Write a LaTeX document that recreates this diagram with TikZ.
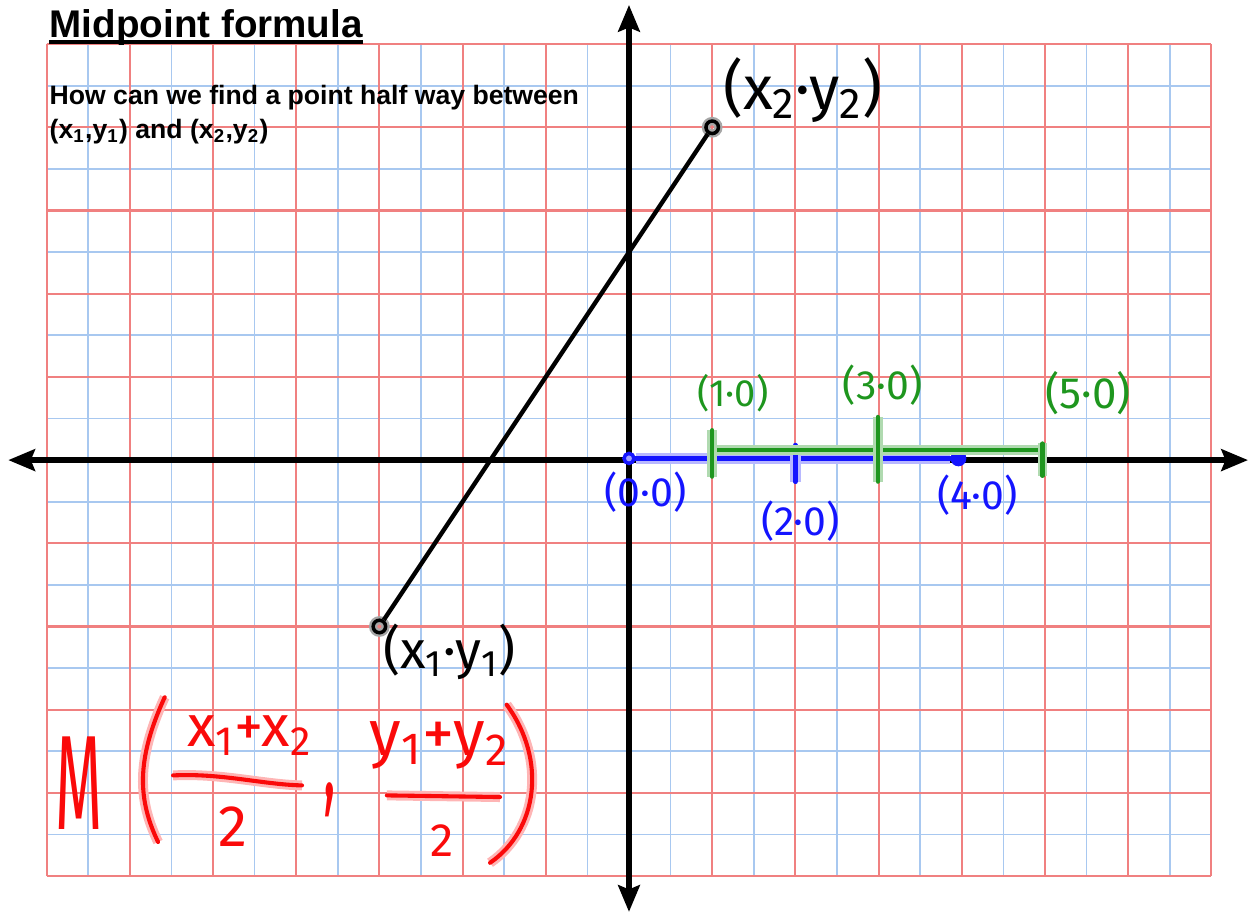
\documentclass[tikz,border=0pt]{standalone}
\usepackage{fontspec}
\usepackage{xcolor}
\usepackage{graphicx}
\setmainfont{Liberation Sans}
\newfontfamily\handfont{Fira Sans}
\usetikzlibrary{arrows.meta, positioning, calc}
\definecolor{gridred}{RGB}{240,128,128}
\definecolor{gridblue}{RGB}{168,200,240}
\definecolor{penblue}{RGB}{20,20,255}
\definecolor{pengreen}{RGB}{30,150,30}
\definecolor{penred}{RGB}{250,10,10}

\begin{document}
\begin{tikzpicture}[
    minorgrid/.style={draw=gridblue, line width=0.6pt, step=0.5},
    majorgrid/.style={draw=gridred, line width=0.7pt, step=1},
    axis/.style={draw, line width=1.8pt, {Stealth[length=3.2mm,width=2.6mm,inset=0.5mm]}-{Stealth[length=3.2mm,width=2.6mm,inset=0.5mm]}},
    bluepen/.style={draw=penblue, line width=1.6pt, line cap=round, line join=round, preaction={draw=penblue!30, line width=3.6pt}},
    greenpen/.style={draw=pengreen, line width=1.4pt, line cap=round, line join=round, preaction={draw=pengreen!35, line width=3.4pt}},
    redpen/.style={draw=penred, line width=1.4pt, line cap=round, line join=round, preaction={draw=penred!30, line width=3.4pt}},
    pt/.style={circle, draw, line width=1.2pt, inner sep=0pt, minimum size=0.15cm, preaction={draw=black!35, line width=2.8pt}},
    hand/.style={font=\handfont\fontsize{#1}{#1}\selectfont, inner sep=0pt},
    heading/.style={anchor=base west, inner sep=0pt, font=\bfseries\fontsize{#1}{#1}\selectfont}]

    \useasboundingbox (-7.56,-5.47) rectangle (7.5,5.53);

    \draw[minorgrid] (-7,-5) grid (7,5);
    \draw[majorgrid] (-7,-5) grid (7,5);

    \node[heading=13.2] (title) at (-6.97,5.08) {Midpoint formula};
    \draw[line width=1.3pt] ([yshift=-1.5pt]title.base west) -- ([yshift=-1.5pt]title.base east);
    \node[heading=9.1] (question) at (-6.97,4.27) {How can we find a point half way between};
    \node[heading=9.1] (endpoints) at (-6.97,3.86) {(x\textsubscript{1},y\textsubscript{1}) and (x\textsubscript{2},y\textsubscript{2})};

    \draw[axis] (-7.46,0) -- (7.44,0);
    \draw[axis] (0,-5.43) -- (0,5.47);

    \node[pt] (p2) at (1,4) {};
    \node[pt] (p1) at (-3,-2) {};
    \draw[line width=1.5pt] (p1) -- (p2);
    \node[hand=21] (labeltwo) at (2.09,4.45) {(x\textsubscript{2}·y\textsubscript{2})};
    \node[hand=18] (labelone) at (-2.16,-2.31) {(x\textsubscript{1}·y\textsubscript{1})};

    \node[circle, draw=penblue, fill=penblue!40, line width=1.2pt, inner sep=0pt, minimum size=0.12cm] (origin) at (0,0.02) {};
    \node[circle, fill=penblue, inner sep=0pt, minimum size=0.19cm] (four) at (3.96,0.02) {};
    \draw[bluepen, line width=2pt] (origin) -- (four);
    \draw[bluepen] (2,0.18) -- (2,-0.26);
    \draw[greenpen] (1,0.12) -- (4.97,0.12);
    \draw[greenpen] (1,0.36) -- (1,-0.2);
    \draw[greenpen] (2.99,0.52) -- (2.99,-0.26);
    \draw[greenpen] (4.97,0.2) -- (4.97,-0.19);

    \node[hand=13, text=pengreen] (gone) at (1.25,0.80) {(1·0)};
    \node[hand=14, text=pengreen] (gthree) at (3.05,0.90) {(3·0)};
    \node[hand=15, text=pengreen] (gfive) at (5.52,0.80) {(5·0)};
    \node[hand=14, text=penblue] (bzero) at (0.2,-0.38) {(0·0)};
    \node[hand=14, text=penblue] (btwo) at (2.06,-0.73) {(2·0)};
    \node[hand=14, text=penblue] (bfour) at (4.19,-0.42) {(4·0)};

    \node[hand=46, text=penred] (emm) at (-6.61,-3.88) {\scalebox{0.45}[1]{M}};
    \draw[redpen] (-5.58,-2.85) .. controls (-5.93,-3.61) and (-5.90,-4.09) .. (-5.66,-4.59);
    \node[hand=20, text=penred] (numx) at (-4.56,-3.31) {x\textsubscript{1}+x\textsubscript{2}};
    \draw[redpen] (-5.48,-3.79) .. controls (-4.9,-3.76) and (-4.4,-3.9) .. (-3.93,-3.91);
    \node[hand=20, text=penred] (denx) at (-4.76,-4.41) {2};
    \node[hand=40, text=penred, anchor=base] (comma) at (-3.6,-4.05) {\scalebox{0.45}[1]{,}};
    \node[hand=22, text=penred] (numy) at (-2.28,-3.43) {y\textsubscript{1}+y\textsubscript{2}};
    \draw[redpen] (-2.91,-4.03) -- (-1.55,-4.05);
    \node[hand=16, text=penred] (deny) at (-2.25,-4.57) {2};
    \draw[redpen] (-1.47,-2.94) .. controls (-0.98,-3.61) and (-1.1,-4.45) .. (-1.67,-4.84);
\end{tikzpicture}
\end{document}
